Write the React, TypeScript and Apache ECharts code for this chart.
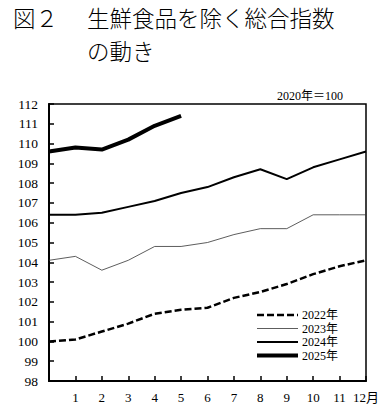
import React, { useEffect, useRef } from "react";
import * as echarts from "echarts";

const months = [0, 1, 2, 3, 4, 5, 6, 7, 8, 9, 10, 11, 12];
const years = ["2022年", "2023年", "2024年", "2025年"];
const v2022 = [100.0, 100.1, 100.5, 100.9, 101.4, 101.6, 101.7, 102.2, 102.5, 102.9, 103.4, 103.8, 104.1];
const v2023 = [104.1, 104.3, 103.6, 104.1, 104.8, 104.8, 105.0, 105.4, 105.7, 105.7, 106.4, 106.4, 106.4];
const v2024 = [106.4, 106.4, 106.5, 106.8, 107.1, 107.5, 107.8, 108.3, 108.7, 108.2, 108.8, 109.2, 109.6];
const v2025 = [109.6, 109.8, 109.7, 110.2, 110.9, 111.4];
const titleLine1 = "生鮮食品を除く総合指数";
const titleLine2 = "の動き";
const titleFig = "図２";
const baseNote = "2020年＝100";

const SERIF = "'Liberation Serif', 'Noto Sans CJK JP', serif";
const CJK = "'Noto Sans CJK JP', sans-serif";

export default function App() {
  const ref = useRef<HTMLDivElement>(null);
  useEffect(() => {
    if (!ref.current) return;
    const chart = echarts.init(ref.current, null, { renderer: "svg" });
    const pairs = (arr: number[]) => arr.map((v, i) => [months[i], v]);
    const styles: any[] = [
      { width: 2.5, type: [7, 3], color: "#000" },
      { width: 0.8, type: "solid", color: "#333" },
      { width: 2, type: "solid", color: "#000" },
      { width: 4, type: "solid", color: "#000" },
    ];
    const datas = [v2022, v2023, v2024, v2025];
    const titleStyle = { fontFamily: CJK, fontSize: 22.5, fontWeight: 300 as any, color: "#000" };
    const legendEls: any[] = [];
    years.forEach((y, i) => {
      const cy = 315 + i * 13.5;
      legendEls.push({
        type: "line",
        shape: { x1: 257, y1: cy, x2: 298, y2: cy },
        style: { stroke: styles[i].color, lineWidth: styles[i].width, lineDash: Array.isArray(styles[i].type) ? styles[i].type : null },
      });
      legendEls.push({
        type: "text",
        x: 302,
        y: cy,
        style: { text: y, fontFamily: SERIF, fontSize: 12, fill: "#000", verticalAlign: "middle" },
      });
    });
    chart.setOption({
      animation: false,
      backgroundColor: "#fff",
      title: [
        { text: titleFig, left: 13, top: 6, padding: 0, textStyle: titleStyle },
        { text: titleLine1, left: 87, top: 6, padding: 0, textStyle: titleStyle },
        { text: titleLine2, left: 87, top: 39, padding: 0, textStyle: titleStyle },
        {
          text: baseNote,
          right: 42,
          top: 90,
          padding: 0,
          textStyle: { fontFamily: SERIF, fontSize: 12, fontWeight: "normal", color: "#000" },
        },
      ],
      graphic: legendEls,
      grid: {
        left: 49,
        right: 19,
        top: 104,
        bottom: 31,
        show: true,
        borderColor: "#000",
        borderWidth: 1.5,
        backgroundColor: "transparent",
      },
      xAxis: {
        type: "value",
        min: 0,
        max: 12,
        interval: 1,
        axisLine: { show: true, lineStyle: { color: "#000", width: 2 } },
        axisTick: { show: true, inside: true, length: 5, lineStyle: { color: "#000", width: 1.5 } },
        splitLine: { show: false },
        axisLabel: {
          margin: 10,
          fontFamily: SERIF,
          fontSize: 13,
          color: "#000",
          formatter: (v: number) => (v === 0 ? "" : v === 12 ? "12月" : String(v)),
        },
      },
      yAxis: {
        type: "value",
        min: 98,
        max: 112,
        interval: 1,
        axisLine: { show: true, lineStyle: { color: "#000", width: 2 } },
        axisTick: { show: true, inside: true, length: 5, lineStyle: { color: "#000", width: 1.5 } },
        splitLine: { show: false },
        axisLabel: { margin: 11, fontFamily: SERIF, fontSize: 13.5, color: "#000" },
      },
      series: datas.map((d, i) => ({
        name: years[i],
        type: "line",
        data: pairs(d),
        showSymbol: false,
        symbol: "none",
        lineStyle: styles[i],
        itemStyle: { color: "#000" },
        z: 2 + i,
      })),
    });
    return () => chart.dispose();
  }, []);
  return <div ref={ref} style={{ position: "fixed", left: 0, top: 0, width: 385, height: 412 }} />;
}
